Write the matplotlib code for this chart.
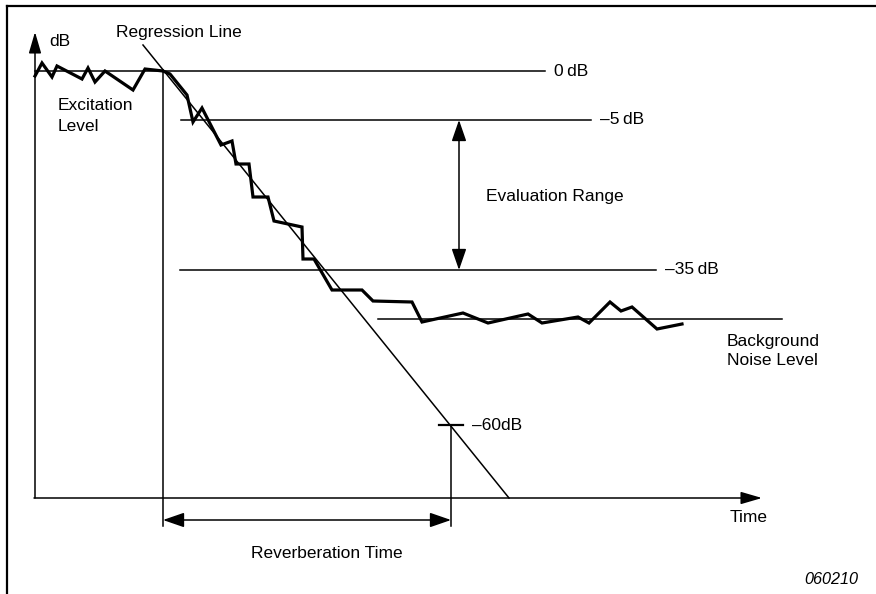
import matplotlib
matplotlib.use("Agg")
import matplotlib.pyplot as plt

plt.rcParams['font.family'] = ['Liberation Sans', 'DejaVu Sans']

# measured decay curve (time px, level px from top)
curve_t = [35, 42, 52, 57, 82, 88, 95, 105, 133, 145, 163, 170, 187, 193, 202,
           221, 232, 236, 249, 253, 268, 274, 302, 303, 314, 332, 362, 373,
           412, 422, 463, 488, 528, 542, 578, 589, 610, 621, 632, 657, 682]
curve_y = [76, 63, 77, 66, 79, 68, 82, 71, 90, 69, 71, 74, 95, 122, 108,
           145, 141, 164, 164, 197, 197, 221, 227, 259, 259, 290, 290, 301,
           302, 322, 313, 323, 314, 323, 317, 323, 302, 311, 307, 329, 324]

# regression line end points
reg_t = [143, 509]
reg_y = [45, 498]

# reference levels: label, y, x start, x end
level_labels = ['0\u2009dB', '\u20135\u2009dB', '\u201335\u2009dB']
level_y = [71, 120, 270]
level_x0 = [35, 181, 180]
level_x1 = [545, 591, 656]

noise_y = 319
noise_x = [378, 782]

fig = plt.figure(figsize=(8.76, 5.94), dpi=100)
ax = fig.add_axes([0, 0, 1, 1])
ax.set_xlim(0, 876)
ax.set_ylim(594, 0)
ax.axis('off')

k = 'black'
thin = 1.1

# frame
ax.plot([7, 7], [594, 6], color=k, lw=1.6)
ax.plot([7, 876], [6, 6], color=k, lw=1.6)

# axes with arrows
ap = dict(arrowstyle='-|>,head_length=1.3,head_width=0.38', color=k, lw=thin,
          shrinkA=0, shrinkB=0, mutation_scale=10)
ax.annotate('', xy=(35, 32), xytext=(35, 498), arrowprops=ap)
ax.annotate('', xy=(762, 498), xytext=(34, 498), arrowprops=ap)

fs = 12.5

# reference levels
for lab, y, x0, x1 in zip(level_labels, level_y, level_x0, level_x1):
    ax.plot([x0, x1], [y, y], color=k, lw=thin)
    ax.text(x1 + 9, y, lab, fontsize=fs, va='center', ha='left')

# background noise level
ax.plot(noise_x, [noise_y, noise_y], color=k, lw=thin)

# verticals
ax.plot([163, 163], [70, 526], color=k, lw=thin)
ax.plot([451, 451], [425, 526], color=k, lw=thin)
ax.plot([439, 463], [425, 425], color=k, lw=1.6)

# regression line and decay curve
ax.plot(reg_t, reg_y, color=k, lw=thin)
ax.plot(curve_t, curve_y, color=k, lw=2.3, solid_joinstyle='miter')

# double arrows
ap2 = dict(arrowstyle='<|-|>,head_length=1.3,head_width=0.45', color=k, lw=thin,
           shrinkA=0, shrinkB=0, mutation_scale=10)
ax.annotate('', xy=(459, 120), xytext=(459, 270), arrowprops=ap2)
ax.annotate('', xy=(163, 520), xytext=(451, 520), arrowprops=ap2)

# labels
ax.text(49, 41, 'dB', fontsize=fs, va='center')
ax.text(116, 32, 'Regression Line', fontsize=fs, va='center')
ax.text(58, 116, 'Excitation\nLevel', fontsize=fs, va='center', linespacing=1.5)
ax.text(727, 351, 'Background\nNoise Level', fontsize=fs, va='center', linespacing=1.4)
ax.text(486, 197, 'Evaluation Range', fontsize=fs, va='center')
ax.text(472, 425, '\u201360dB', fontsize=fs, va='center')
ax.text(749, 518, 'Time', fontsize=fs, va='center', ha='center')
ax.text(327, 553, 'Reverberation Time', fontsize=fs, va='center', ha='center')
ax.text(858, 579, '060210', fontsize=11.7, va='center', ha='right', style='italic')

fig.savefig('out.png', dpi=100)
